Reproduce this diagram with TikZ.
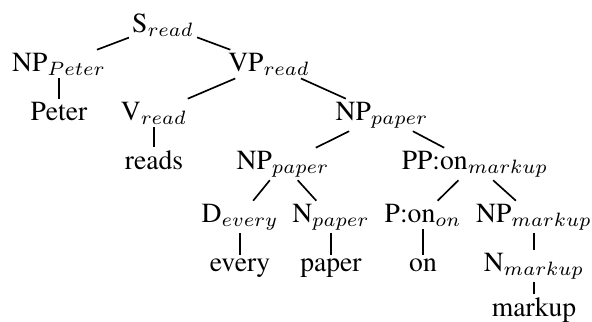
\documentclass[tikz,border=0pt]{standalone}
\usepackage[T1]{fontenc}
\renewcommand{\rmdefault}{ptm}
\tikzset{cat/.style={anchor=base, inner sep=1pt}}

\begin{document}
\begin{tikzpicture}[x=0.362pt, y=-0.362pt]
	\def\rA{32};
	\def\rB{71};
	\def\rC{120};
	\def\rD{169};
	\def\rE{222};
	\def\rF{271};
	\def\rG{316};

	\useasboundingbox (0,0) rectangle (592,321);

	\node[cat] (s) at (163,\rA) {S$_{read}$};
	\node[cat] (npPeter) at (59,\rB) {NP$_{Peter}$};
	\node[cat] (vp) at (269,\rB) {VP$_{read}$};
	\node[cat] (peter) at (59,\rC) {Peter};
	\node[cat] (v) at (154,\rC) {V$_{read}$};
	\node[cat] (npPaper) at (382,\rC) {NP$_{paper}$};
	\node[cat] (reads) at (154,\rD) {reads};
	\node[cat] (npPaperB) at (283,\rD) {NP$_{paper}$};
	\node[cat] (pp) at (475,\rD) {PP:on$_{markup}$};
	\node[cat] (d) at (240,\rE) {D$_{every}$};
	\node[cat] (n) at (331,\rE) {N$_{paper}$};
	\node[cat] (p) at (423,\rE) {P:on$_{on}$};
	\node[cat] (npMarkup) at (534,\rE) {NP$_{markup}$};
	\node[cat] (every) at (240,\rF) {every};
	\node[cat] (paper) at (331,\rF) {paper};
	\node[cat] (on) at (423,\rF) {on};
	\node[cat] (nMarkup) at (534,\rF) {N$_{markup}$};
	\node[cat] (markup) at (534,\rG) {markup};

	\begin{scope}[line width=0.6pt]
		\draw (s) -- (npPeter);
		\draw (s) -- (vp);
		\draw (npPeter) -- (peter);
		\draw (vp) -- (v);
		\draw (vp) -- (npPaper);
		\draw (v) -- (reads);
		\draw (npPaper) -- (npPaperB);
		\draw (npPaper) -- (pp);
		\draw (npPaperB) -- (d);
		\draw (npPaperB) -- (n);
		\draw (pp) -- (p);
		\draw (pp) -- (npMarkup);
		\draw (d) -- (every);
		\draw (n) -- (paper);
		\draw (p) -- (on);
		\draw (npMarkup) -- (nMarkup);
		\draw (nMarkup) -- (markup);
	\end{scope}
\end{tikzpicture}
\end{document}
